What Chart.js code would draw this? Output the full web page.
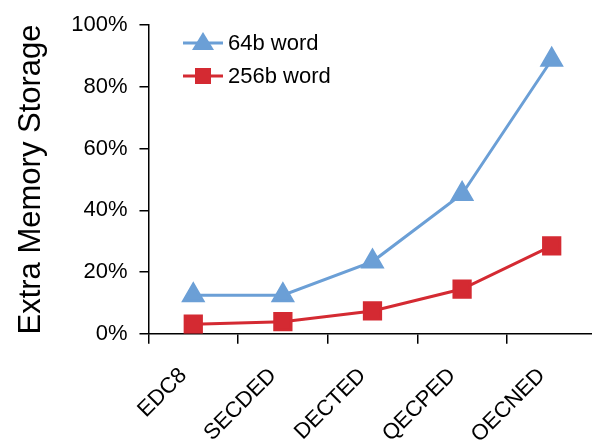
<!DOCTYPE html>
<html>
<head>
<meta charset="utf-8">
<script src="https://cdn.jsdelivr.net/npm/chart.js@4"></script>
<style>
  html, body { margin: 0; padding: 0; background: #fff; overflow: hidden; }
  #wrap { width: 592px; height: 446px; overflow: hidden; }
</style>
</head>
<body>
<div id="wrap"><canvas id="myChart" width="611" height="446"></canvas></div>
<script>
const categories = ['EDC8', 'SECDED', 'DECTED', 'QECPED', 'OECNED'];
const word64 = [0.125, 0.125, 0.234, 0.453, 0.888];
const word256 = [0.031, 0.039, 0.074, 0.145, 0.285];
const yTicks = [0, 0.2, 0.4, 0.6, 0.8, 1.0];

const blue = '#6b9fd6';
const red = '#d42a32';
const font = 'Liberation Sans, Arial, sans-serif';

// legend drawn inside the plot, upper left
const legendPlugin = {
	id: 'insideLegend',
	afterDraw(chart) {
		const ctx = chart.ctx;
		const items = [
			{ text: '64b word', color: blue, style: 'triangle', y: 43 },
			{ text: '256b word', color: red, style: 'rect', y: 76 }
		];
		ctx.save();
		items.forEach(it => {
			ctx.strokeStyle = it.color;
			ctx.lineWidth = 3;
			ctx.beginPath();
			ctx.moveTo(183, it.y);
			ctx.lineTo(223, it.y);
			ctx.stroke();
			ctx.fillStyle = it.color;
			if (it.style === 'triangle') {
				ctx.beginPath();
				ctx.moveTo(203, it.y - 11);
				ctx.lineTo(214, it.y + 7);
				ctx.lineTo(192, it.y + 7);
				ctx.closePath();
				ctx.fill();
			} else {
				ctx.fillRect(195, it.y - 8, 16, 16);
			}
			ctx.fillStyle = '#000';
			ctx.font = '22px ' + font;
			ctx.textBaseline = 'middle';
			ctx.textAlign = 'left';
			ctx.fillText(it.text, 228, it.y + 1);
		});
		ctx.restore();
	}
};

const chart = new Chart(document.getElementById('myChart'), {
	type: 'line',
	data: {
		labels: categories,
		datasets: [{
			label: '64b word',
			data: word64,
			borderColor: blue,
			backgroundColor: blue,
			borderWidth: 3,
			pointStyle: 'triangle',
			pointRadius: 11,
			pointHoverRadius: 11,
			tension: 0
		}, {
			label: '256b word',
			data: word256,
			borderColor: red,
			backgroundColor: red,
			borderWidth: 3,
			pointStyle: 'rect',
			pointRadius: 11.5,
			pointHoverRadius: 11.5,
			tension: 0
		}]
	},
	options: {
		responsive: false,
		animation: false,
		layout: { padding: { left: 13, top: 21, right: 0, bottom: -21 } },
		plugins: {
			legend: { display: false },
			tooltip: { enabled: false }
		},
		scales: {
			x: {
				offset: true,
				grid: { offset: true, drawOnChartArea: false, drawTicks: true, tickLength: 10, color: '#000', lineWidth: 1.5 },
				border: { color: '#000', width: 1.5 },
				ticks: {
					color: '#000',
					font: { family: font, size: 22 },
					minRotation: 45,
					maxRotation: 45,
					padding: 19,
					labelOffset: -10
				}
			},
			y: {
				min: 0,
				max: 1,
				afterBuildTicks: axis => { axis.ticks = yTicks.map(v => ({ value: v })); },
				grid: { drawOnChartArea: false, drawTicks: true, tickLength: 9, color: '#000', lineWidth: 1.5 },
				border: { color: '#000', width: 1.5 },
				ticks: {
					color: '#000',
					font: { family: font, size: 22 },
					padding: 12,
					callback: v => Math.round(v * 100) + '%'
				},
				title: {
					display: true,
					text: 'Extra Memory Storage',
					color: '#000',
					font: { family: font, size: 31 },
					padding: { top: 0, bottom: 9 }
				}
			}
		}
	},
	plugins: [legendPlugin]
});
</script>
</body>
</html>
